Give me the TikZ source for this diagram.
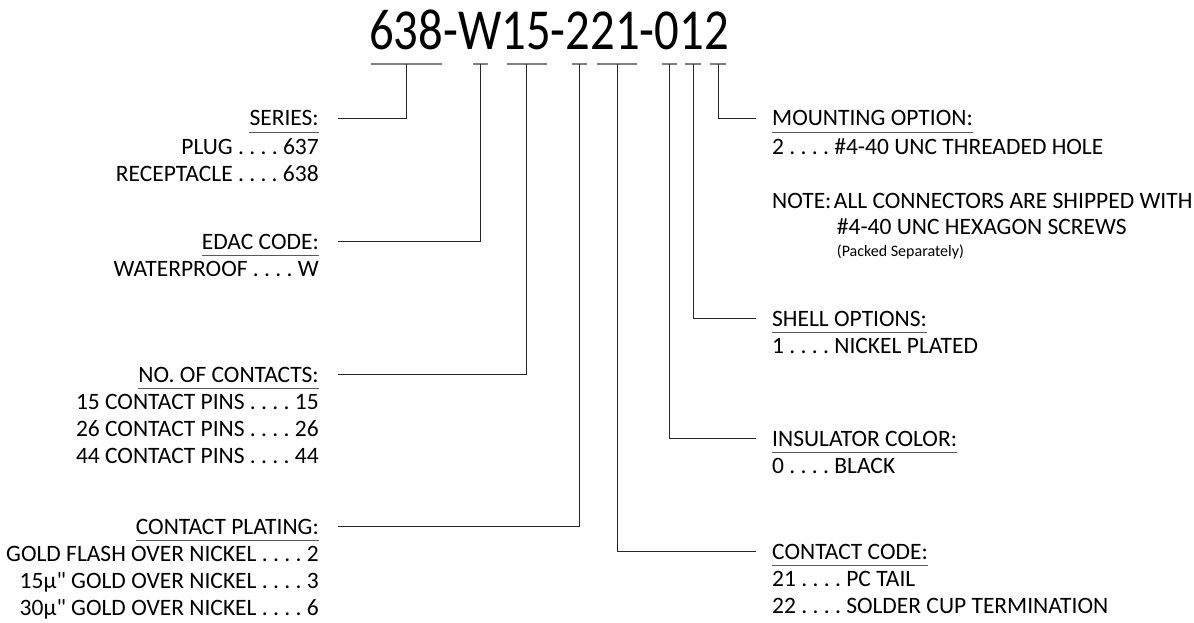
\documentclass[tikz,border=0pt]{standalone}
\usepackage{fontspec}
\setmainfont{Carlito}[Ligatures=TeXOff]
\newfontfamily\partfont{Carlito}[FakeStretch=0.84]
\usetikzlibrary{positioning}
\frenchspacing

\begin{document}
\begin{tikzpicture}[x=1pt, y=-1pt,
    every node/.style={inner sep=0pt, font=\fontsize{23.5}{27}\selectfont},
    head/.style={text depth=0pt},
    opts/.style={align=right},
    ropts/.style={align=left},
    bar/.style={draw=black!50, line width=1.6pt},
    lead/.style={draw=black!85, line width=0.9pt},
    uline/.style={draw=black!65, line width=1.3pt}]

  \useasboundingbox (0,0) rectangle (1194,623);

  % part number
  \node[anchor=base west, font=\partfont\fontsize{58}{60}\selectfont] (part) at (369,50) {638-W15-221-012};

  % bars under the groups of the part number, with their ticks
  \coordinate (t1) at (406,64);
  \coordinate (t2) at (480.7,64);
  \coordinate (t3) at (526.7,64);
  \coordinate (t4) at (579,64);
  \coordinate (t5) at (617.7,64);
  \coordinate (t6) at (669.3,64);
  \coordinate (t7) at (693.3,64);
  \coordinate (t8) at (718.3,64);
  \draw[bar] (371,64) -- (442,64);
  \draw[bar] (473,64) -- (488,64);
  \draw[bar] (507,64) -- (547,64);
  \draw[bar] (572,64) -- (587,64);
  \draw[bar] (597,64) -- (637,64);
  \draw[bar] (662,64) -- (677,64);
  \draw[bar] (685,64) -- (701,64);
  \draw[bar] (710,64) -- (726,64);

  % left column, right aligned at x = 319
  \node[head, anchor=base east] (series) at (319,126) {SERIES:};
  \node[opts, below left=12pt and 0pt of series.south east] (seriesopt)
    {PLUG . . . . 637\\RECEPTACLE . . . . 638};

  \node[head, anchor=base east] (edac) at (319,249) {EDAC CODE:};
  \node[opts, below left=12pt and 0pt of edac.south east] (edacopt)
    {WATERPROOF . . . . W};

  \node[head, anchor=base east] (contacts) at (319,382) {NO. OF CONTACTS:};
  \node[opts, below left=12pt and 0pt of contacts.south east] (contactsopt)
    {15 CONTACT PINS . . . . 15\\26 CONTACT PINS . . . . 26\\44 CONTACT PINS . . . . 44};

  \node[head, anchor=base east] (plating) at (319,534) {CONTACT PLATING:};
  \node[opts, below left=12pt and 0pt of plating.south east] (platingopt)
    {GOLD FLASH OVER NICKEL . . . . 2\\15µ" GOLD OVER NICKEL . . . . 3\\30µ" GOLD OVER NICKEL . . . . 6};

  % right column, left aligned at x = 772
  \node[head, anchor=base west] (mount) at (772,126) {MOUNTING OPTION:};
  \node[ropts, below right=12pt and 0pt of mount.south west] (mountopt)
    {2 . . . . \#4-40 UNC THREADED HOLE};

  \node[anchor=base west] (note) at (772,208) {NOTE:};
  \node[anchor=base west] (notea) at ([xshift=2pt]note.base east) {ALL CONNECTORS ARE SHIPPED WITH};
  \node[anchor=base west] (noteb) at ([xshift=3pt, yshift=-26pt]notea.base west) {\#4-40 UNC HEXAGON SCREWS};
  \node[anchor=base west, font=\fontsize{16}{18}\selectfont] (notec) at ([yshift=-22pt]noteb.base west) {(Packed Separately)};

  \node[head, anchor=base west] (shell) at (772,326) {SHELL OPTIONS:};
  \node[ropts, below right=12pt and 0pt of shell.south west] (shellopt)
    {1 . . . . NICKEL PLATED};

  \node[head, anchor=base west] (insul) at (772,446) {INSULATOR COLOR:};
  \node[ropts, below right=12pt and 0pt of insul.south west] (insulopt)
    {0 . . . . BLACK};

  \node[head, anchor=base west] (ccode) at (772,559) {CONTACT CODE:};
  \node[ropts, below right=12pt and 0pt of ccode.south west] (ccodeopt)
    {21 . . . . PC TAIL\\22 . . . . SOLDER CUP TERMINATION};

  % underlines of the headings
  \draw[uline] ([yshift=-6pt]series.south west) -- ([yshift=-6pt]series.south east);
  \draw[uline] ([yshift=-6pt]edac.south west) -- ([yshift=-6pt]edac.south east);
  \draw[uline] ([yshift=-6pt]contacts.south west) -- ([yshift=-6pt]contacts.south east);
  \draw[uline] ([yshift=-6pt]plating.south west) -- ([yshift=-6pt]plating.south east);
  \draw[uline] ([yshift=-6pt]mount.south west) -- ([yshift=-6pt]mount.south east);
  \draw[uline] ([yshift=-6pt]shell.south west) -- ([yshift=-6pt]shell.south east);
  \draw[uline] ([yshift=-6pt]insul.south west) -- ([yshift=-6pt]insul.south east);
  \draw[uline] ([yshift=-6pt]ccode.south west) -- ([yshift=-6pt]ccode.south east);

  % leaders from the ticks to the headings
  \draw[lead] (t1) |- ([xshift=19pt]series.east);
  \draw[lead] (t2) |- ([xshift=19pt]edac.east);
  \draw[lead] (t3) |- ([xshift=19pt]contacts.east);
  \draw[lead] (t4) |- ([xshift=19pt]plating.east);
  \draw[lead] (t5) |- ([xshift=-16pt]ccode.west);
  \draw[lead] (t6) |- ([xshift=-16pt]insul.west);
  \draw[lead] (t7) |- ([xshift=-16pt]shell.west);
  \draw[lead] (t8) |- ([xshift=-16pt]mount.west);
\end{tikzpicture}
\end{document}
